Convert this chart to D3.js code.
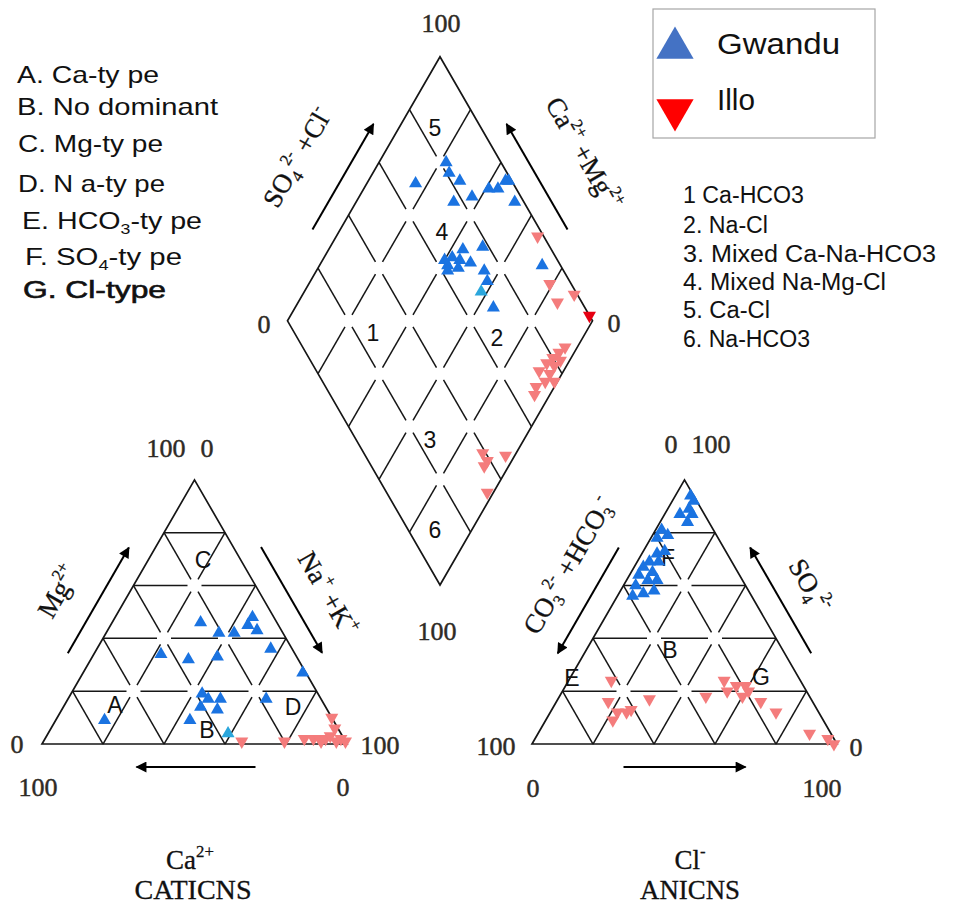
<!DOCTYPE html>
<html>
<head>
<meta charset="utf-8">
<script src="https://cdn.jsdelivr.net/npm/d3@7"></script>
<style>
  body { margin: 0; background: #fff; }
  svg { display: block; }
</style>
</head>
<body>
<svg id="chart" width="955" height="906"></svg>
<script>
// ---------------- data (percent of meq/L) ----------------
const seriesNames = ["Gwandu", "Illo"];

// cation triangle: [Ca, Mg, Na+K]
const gwanduCation = [
  [25, 46, 29], [21, 42, 37], [16, 42, 42], [10, 45, 45], [7, 48, 45], [8, 43, 49],
  [7, 36, 57], [1, 27, 72], [44, 34, 22], [36, 32, 32], [26, 33, 41], [38, 19, 43],
  [33, 17, 50], [41, 14, 45], [36, 13, 51], [47, 9, 44], [18, 17, 65], [75, 9, 16],
  [37, 17, 46]
];
const illoCation = [
  [34, 1, 65], [20, 1, 79], [13, 2, 85], [10, 2, 88], [8, 2, 90], [6, 2, 92],
  [4, 3, 93], [0, 10, 90], [1, 6, 93], [1, 2, 97], [0, 1, 99], [3, 1, 96], [8, 1, 91]
];

// anion triangle: [CO3+HCO3, SO4, Cl]
const gwanduAnion = [
  [1, 94, 5], [1, 92, 7], [4, 89, 7], [8, 87, 5], [4, 87, 9], [7, 84, 9],
  [17, 81, 2], [16, 79, 5], [20, 78, 2], [20, 73, 7], [23, 72, 5], [27, 69, 4],
  [24, 69, 7], [30, 67, 3], [28, 65, 7], [33, 64, 3], [31, 62, 7], [28, 62, 10],
  [36, 60, 4], [39, 56, 5], [35, 57, 8], [31, 58, 11]
];
const illoAnion = [
  [62, 24, 14], [67, 16, 17], [66, 12, 22], [63, 12, 25], [61, 13, 26], [69, 9, 22],
  [53, 17, 30], [34, 18, 48], [25, 24, 51], [26, 20, 54], [22, 22, 56], [19, 22, 59],
  [22, 18, 60], [19, 20, 61], [17, 16, 67], [14, 12, 74], [7, 4, 89], [2, 2, 96],
  [1, 0, 99]
];

// diamond field: [SO4+Cl, Ca+Mg]
const gwanduDiamond = [
  [68, 84], [82, 78], [81, 75], [83, 70], [77, 68], [84, 63], [91, 59], [94, 56],
  [98, 55], [99, 54], [97, 48], [71, 56], [66, 58], [63, 58], [62, 57], [68, 55],
  [71, 51], [78, 50], [74, 45], [73, 42], [70, 35], [94, 27], [66, 54], [63, 60]
];
const illoDiamond = [
  [98, 34], [93, 21], [92, 15], [99, 11], [86, 4], [83, 5], [80, 6], [82, 3],
  [77, 7], [79, 4], [73, 8], [76, 4], [73, 4], [69, 6], [67, 5], [76, 1],
  [39, 11], [39, 8], [46, 3], [37, 8], [33, 2]
];

// individually marked samples
const gwanduMarkedCation = [[37, 4, 59]];
const gwanduMarkedDiamond = [[69, 42]];
const illoMarkedDiamond = [[100, 2]];

// text
const cationTypes = ["A. Ca-ty pe", "B. No dominant", "C. Mg-ty pe", "D. N a-ty pe"];
const waterTypes = ["1 Ca-HCO3", "2. Na-Cl", "3. Mixed Ca-Na-HCO3", "4. Mixed Na-Mg-Cl", "5. Ca-Cl", "6. Na-HCO3"];
const gridSteps = [0, 20, 40, 60, 80, 100];

// ---------------- layout ----------------
const svg = d3.select("#chart");
const SIDE = 305;
const S3 = Math.sqrt(3) / 2;
const pct = d3.scaleLinear().domain([0, 100]).range([0, SIDE]);

const catOrigin = [42, 744];   // Ca corner of cation triangle
const aniOrigin = [532, 744];  // HCO3 corner of anion triangle
const diaBottom = [440, 585];  // bottom corner of diamond

// ternary position: "right" = component at right corner, "top" = component at apex
function tri(origin, right, top) {
  const r = pct(right), t = pct(top);
  return [origin[0] + r + t / 2, origin[1] - t * S3];
}
function dia(s, m) {
  const a = pct(s), b = pct(m);
  return [diaBottom[0] + (a - b) / 2, diaBottom[1] - (a + b) * S3];
}

const COLORS = {
  line: "#161616",
  gw: "#1a73e1",
  gwMark: "#2aa6dc",
  il: "#f47c7c",
  ilMark: "#e60012",
  tick: "#2e2a25"
};

const serif = "'Liberation Serif','Times New Roman',serif";
const sans = "'Liberation Sans',Arial,sans-serif";

const gGrid = svg.append("g").attr("stroke", COLORS.line).attr("fill", "none");

function shrink(P, Q, gapP, gapQ) {
  const dx = Q[0] - P[0], dy = Q[1] - P[1];
  const L = Math.hypot(dx, dy);
  const ux = dx / L, uy = dy / L;
  return [[P[0] + ux * gapP, P[1] + uy * gapP], [Q[0] - ux * gapQ, Q[1] - uy * gapQ]];
}
const GAP = 7;
const lineGen = d3.line();

// triangle grid
function drawTriangle(origin) {
  const corners = [tri(origin, 0, 0), tri(origin, 100, 0), tri(origin, 0, 100)];
  gGrid.append("path").attr("d", lineGen(corners) + "Z").attr("stroke-width", 1.7)
    .attr("stroke-linejoin", "miter");
  const dirs = [[20, 0], [0, 20], [-20, 20]];
  const inside = (r, t) => r > 0 && t > 0 && r + t < 100;
  gridSteps.forEach(r => gridSteps.forEach(t => {
    if (r + t > 100) return;
    dirs.forEach(([dr, dt]) => {
      const r2 = r + dr, t2 = t + dt;
      if (r2 < 0 || t2 < 0 || r2 + t2 > 100) return;
      if ((t === 0 && t2 === 0) || (r === 0 && r2 === 0) || (r + t === 100 && r2 + t2 === 100)) return;
      const seg = shrink(tri(origin, r, t), tri(origin, r2, t2),
        inside(r, t) ? GAP : 0, inside(r2, t2) ? GAP : 0);
      gGrid.append("path").attr("d", lineGen(seg)).attr("stroke-width", 1.5);
    });
  }));
}
drawTriangle(catOrigin);
drawTriangle(aniOrigin);

// diamond grid
(function drawDiamond() {
  const corners = [dia(0, 0), dia(100, 0), dia(100, 100), dia(0, 100)];
  gGrid.append("path").attr("d", lineGen(corners) + "Z").attr("stroke-width", 1.7);
  const inside = (s, m) => s > 0 && s < 100 && m > 0 && m < 100;
  gridSteps.forEach(s => gridSteps.forEach(m => {
    [[20, 0], [0, 20]].forEach(([ds, dm]) => {
      const s2 = s + ds, m2 = m + dm;
      if (s2 > 100 || m2 > 100) return;
      if ((s === 0 && s2 === 0) || (s === 100 && s2 === 100) || (m === 0 && m2 === 0) || (m === 100 && m2 === 100)) return;
      const seg = shrink(dia(s, m), dia(s2, m2), inside(s, m) ? GAP : 0, inside(s2, m2) ? GAP : 0);
      gGrid.append("path").attr("d", lineGen(seg)).attr("stroke-width", 1.5);
    });
  }));
})();

// ---------------- direction arrows ----------------
svg.append("defs").append("marker")
  .attr("id", "head").attr("viewBox", "0 0 10 10").attr("refX", 9).attr("refY", 5)
  .attr("markerUnits", "userSpaceOnUse").attr("markerWidth", 14).attr("markerHeight", 11)
  .attr("orient", "auto")
  .append("path").attr("d", "M0,0 L10,5 L0,10 Z").attr("fill", "#000");

function edgeArrow(A, B, center, f0, f1, off) {
  const dx = B[0] - A[0], dy = B[1] - A[1];
  const L = Math.hypot(dx, dy);
  let nx = -dy / L, ny = dx / L;
  const mx = (A[0] + B[0]) / 2, my = (A[1] + B[1]) / 2;
  if ((mx - center[0]) * nx + (my - center[1]) * ny < 0) { nx = -nx; ny = -ny; }
  const p = f => [A[0] + dx * f + nx * off, A[1] + dy * f + ny * off];
  svg.append("path").attr("d", lineGen([p(f0), p(f1)]))
    .attr("stroke", "#000").attr("stroke-width", 2).attr("fill", "none")
    .attr("marker-end", "url(#head)");
}
{
  const cL = tri(catOrigin, 0, 0), cR = tri(catOrigin, 100, 0), cT = tri(catOrigin, 0, 100);
  const cC = [(cL[0] + cR[0] + cT[0]) / 3, (cL[1] + cR[1] + cT[1]) / 3];
  edgeArrow(cL, cT, cC, 0.3, 0.7, 23);
  edgeArrow(cT, cR, cC, 0.3, 0.7, 24);
  edgeArrow(cR, cL, cC, 0.3, 0.69, 23);
  const aL = tri(aniOrigin, 0, 0), aR = tri(aniOrigin, 100, 0), aT = tri(aniOrigin, 0, 100);
  const aC = [(aL[0] + aR[0] + aT[0]) / 3, (aL[1] + aR[1] + aT[1]) / 3];
  edgeArrow(aT, aL, aC, 0.3, 0.7, 23);
  edgeArrow(aR, aT, aC, 0.3, 0.7, 23);
  edgeArrow(aL, aR, aC, 0.3, 0.7, 23);
  const dL = dia(0, 100), dT = dia(100, 100), dR = dia(100, 0);
  const dC = dia(50, 50);
  edgeArrow(dL, dT, dC, 0.3, 0.7, 24);
  edgeArrow(dR, dT, dC, 0.3, 0.7, 24);
}

// ---------------- rich text helper ----------------
function rich(x, y, parts, opt = {}) {
  const size = opt.size || 24;
  const t = svg.append("text")
    .attr("x", x).attr("y", y)
    .attr("font-family", opt.family || serif)
    .attr("font-size", size)
    .attr("fill", opt.fill || "#111")
    .attr("text-anchor", opt.anchor || "middle");
  if (opt.rotate) t.attr("transform", `rotate(${opt.rotate},${x},${y})`);
  if (opt.length) t.attr("textLength", opt.length).attr("lengthAdjust", "spacingAndGlyphs");
  if (opt.stroke) t.attr("stroke", opt.fill || "#111").attr("stroke-width", opt.stroke);
  let shift = 0;
  parts.forEach(p => {
    const [str, kind] = Array.isArray(p) ? p : [p, "n"];
    let target = 0, fs = size;
    if (kind === "sup") { target = -size * 0.45; fs = size * 0.62; }
    if (kind === "sub") { target = size * 0.22; fs = size * 0.62; }
    t.append("tspan").attr("dy", target - shift).attr("font-size", fs).text(str);
    shift = target;
  });
  return t;
}

// ---------------- axis titles ----------------
const titleOpt = r => ({ rotate: r, size: 27, stroke: 0.3 });
rich(305, 162, ["SO", ["4", "sub"], ["2-", "sup"], " +Cl", ["-", "sup"]], titleOpt(-60));
rich(576, 158, ["Ca", ["2+", "sup"], " +Mg", ["2+", "sup"]], titleOpt(60));
rich(66, 596, ["Mg", ["2+", "sup"]], titleOpt(-60));
rich(320, 598, ["Na", ["+", "sup"], " +K", ["+", "sup"]], titleOpt(60));
rich(576, 570, ["CO", ["3", "sub"], ["2-", "sup"], " +HCO", ["3", "sub"], ["-", "sup"]], titleOpt(-60));
rich(802, 590, ["SO", ["4", "sub"], ["2-", "sup"]], titleOpt(60));

rich(190, 869, ["Ca", ["2+", "sup"]], { size: 27, stroke: 0.3 });
rich(193, 899, ["CATICNS"], { size: 27, stroke: 0.3, length: 117 });
rich(690, 869, ["Cl", ["-", "sup"]], { size: 27, stroke: 0.3 });
rich(690, 899, ["ANICNS"], { size: 27, stroke: 0.3, length: 100 });

// ---------------- tick values ----------------
const ticks = [
  [441, 32, "100"], [264, 333, "0"], [614, 332, "0"], [437, 640, "100"],
  [166, 457, "100"], [207, 457, "0"], [17, 753, "0"], [380, 754, "100"],
  [38, 796, "100"], [343, 796, "0"],
  [671, 453, "0"], [711, 453, "100"], [496, 755, "100"], [856, 756, "0"],
  [533, 797, "0"], [822, 797, "100"]
];
ticks.forEach(([x, y, s]) => rich(x, y, [s], { fill: COLORS.tick, size: 26, stroke: 0.45 }));

// ---------------- field letters ----------------
const fieldLabels = [
  [203, 568, "C"], [115, 713, "A"], [207, 738, "B"], [293, 715, "D"],
  [668, 566, "F"], [670, 658, "B"], [572, 686, "E"], [761, 685, "G"],
  [435, 136, "5"], [442, 240, "4"], [373, 341, "1"], [497, 346, "2"], [430, 448, "3"], [435, 538, "6"]
];
fieldLabels.forEach(([x, y, s]) => rich(x, y, [s], { family: sans, size: 23, fill: "#111" }));

// ---------------- sample points ----------------
const up = d3.symbol().type(d3.symbolTriangle).size(74);
const gPts = svg.append("g");
function plot(points, fn, color, down) {
  gPts.selectAll(null).data(points).enter().append("path")
    .attr("d", up)
    .attr("transform", d => {
      const [x, y] = fn(d);
      return `translate(${x},${y})` + (down ? " rotate(180)" : "");
    })
    .attr("fill", color);
}
const catPos = d => tri(catOrigin, d[2], d[1]);
const aniPos = d => tri(aniOrigin, d[2], d[1]);
const diaPos = d => dia(d[0], d[1]);

plot(illoCation, catPos, COLORS.il, true);
plot(gwanduCation, catPos, COLORS.gw, false);
plot(gwanduMarkedCation, catPos, COLORS.gwMark, false);
plot(illoAnion, aniPos, COLORS.il, true);
plot(gwanduAnion, aniPos, COLORS.gw, false);
plot(illoDiamond, diaPos, COLORS.il, true);
plot(illoMarkedDiamond, diaPos, COLORS.ilMark, true);
plot(gwanduDiamond, diaPos, COLORS.gw, false);
plot(gwanduMarkedDiamond, diaPos, COLORS.gwMark, false);

// ---------------- legend ----------------
const leg = svg.append("g");
leg.append("rect").attr("x", 653).attr("y", 9).attr("width", 222).attr("height", 129)
  .attr("fill", "#fff").attr("stroke", "#a6a6a6").attr("stroke-width", 1.2);
const bigSym = d3.symbol().type(d3.symbolTriangle).size(600);
leg.append("path").attr("d", bigSym).attr("transform", "translate(675,48)").attr("fill", "#4472c4");
leg.append("path").attr("d", bigSym).attr("transform", "translate(675,110) rotate(180)").attr("fill", "#ff0000");
rich(717, 54, [seriesNames[0]], { family: sans, size: 29, anchor: "start", length: 123 });
rich(717, 110, [seriesNames[1]], { family: sans, size: 29, anchor: "start", length: 38 });

// ---------------- water type list ----------------
const waterBase = [203, 233, 262, 290, 318, 347];
const waterLen = [121, 85, 253, 203, 87, 127];
waterTypes.forEach((s, i) => rich(683, waterBase[i], [s], { family: sans, size: 23, anchor: "start", length: waterLen[i] }));

// ---------------- facies list ----------------
const faciesRows = [
  { x: 17, y: 83, len: 142, parts: [cationTypes[0]] },
  { x: 17, y: 115, len: 201, parts: [cationTypes[1]] },
  { x: 18, y: 152, len: 145, parts: [cationTypes[2]] },
  { x: 18, y: 192, len: 147, parts: [cationTypes[3]] },
  { x: 22, y: 229, len: 180, parts: ["E. HCO", ["3", "sub"], "-ty pe"] },
  { x: 25, y: 265, len: 157, parts: ["F. SO", ["4", "sub"], "-ty pe"] },
  { x: 23, y: 298, len: 143, parts: ["G. Cl-type"], stroke: 0.6, size: 23 }
];
faciesRows.forEach(r => rich(r.x, r.y, r.parts, { family: sans, size: r.size || 24, anchor: "start", length: r.len, stroke: r.stroke }));
</script>
</body>
</html>
